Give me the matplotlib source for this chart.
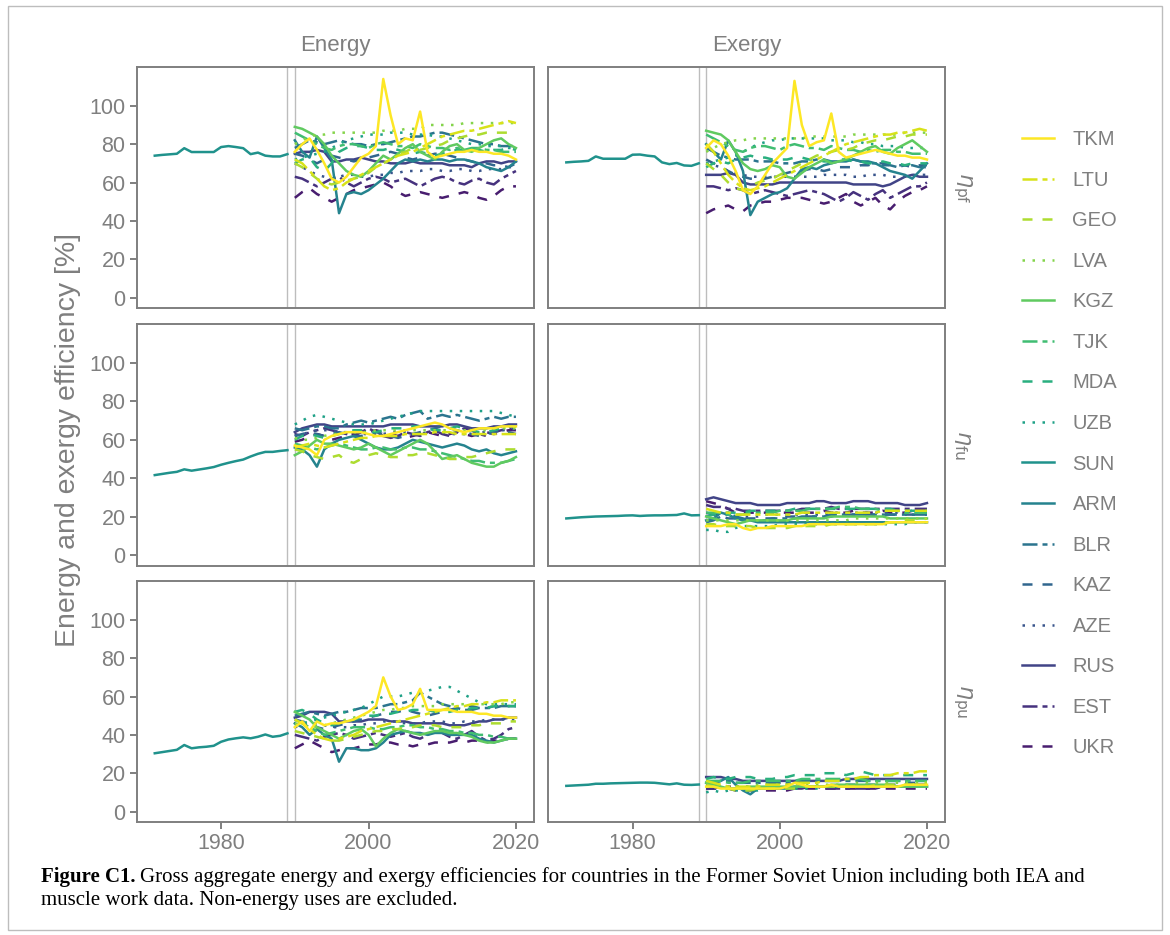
import numpy as np
import matplotlib
matplotlib.use('Agg')
import matplotlib.pyplot as plt
from matplotlib.lines import Line2D
from matplotlib.patches import Rectangle

plt.rcParams['font.family'] = ['Liberation Sans', 'DejaVu Sans']
plt.rcParams['lines.scale_dashes'] = False

countries = ['TKM', 'LTU', 'GEO', 'LVA', 'KGZ', 'TJK', 'MDA', 'UZB',
             'SUN', 'ARM', 'BLR', 'KAZ', 'AZE', 'RUS', 'EST', 'UKR']
linestyles = ['solid', 'twodash', 'dashed', 'dotted', 'solid', 'twodash', 'dashed', 'dotted',
              'solid', 'solid', 'twodash', 'dashed', 'dotted', 'solid', 'twodash', 'dashed']

sun_years = list(range(1971, 1990))
years = list(range(1990, 2021))

# Soviet Union aggregate, 1971-1989
sun_pf_energy = [74.0, 74.4, 74.7, 75.0, 77.9, 75.9, 75.9, 75.9, 75.9, 78.5, 79.0, 78.5, 77.9, 74.8, 75.6, 74.0, 73.6, 73.6, 74.8]
sun_pf_exergy = [70.5, 70.8, 71.0, 71.3, 73.6, 72.4, 72.4, 72.4, 72.4, 74.5, 74.6, 74.0, 73.6, 70.5, 69.6, 70.2, 68.9, 68.7, 70.0]
sun_fu_energy = [41.6, 42.2, 42.8, 43.3, 44.6, 43.9, 44.5, 45.1, 45.8, 47.0, 48.0, 48.9, 49.7, 51.3, 52.7, 53.7, 53.7, 54.2, 54.6]
sun_fu_exergy = [19.0, 19.3, 19.6, 19.8, 20.0, 20.1, 20.2, 20.3, 20.5, 20.6, 20.3, 20.5, 20.6, 20.6, 20.7, 20.8, 21.6, 20.6, 20.7]
sun_pu_energy = [30.4, 31.0, 31.6, 32.2, 34.7, 33.0, 33.5, 33.8, 34.3, 36.4, 37.6, 38.2, 38.7, 38.2, 39.0, 40.2, 39.0, 39.5, 40.8]
sun_pu_exergy = [13.4, 13.6, 13.8, 14.0, 14.5, 14.5, 14.7, 14.8, 14.9, 15.0, 15.1, 15.1, 15.0, 14.6, 14.2, 14.7, 14.0, 13.9, 14.1]

# successor states, 1990-2020
pf_energy = {
    'TKM': [76, 80, 83, 77, 70, 62, 60, 63, 68, 73, 75, 79, 114, 95, 80, 83, 82, 97, 76, 73, 74, 75, 76, 76, 77, 76, 76, 75, 75, 74, 72],
    'LTU': [72, 70, 66, 62, 58, 56, 57, 60, 62, 64, 66, 68, 70, 72, 74, 75, 76, 78, 80, 82, 84, 85, 86, 87, 87, 88, 89, 90, 91, 92, 91],
    'GEO': [70, 68, 65, 62, 60, 59, 60, 61, 62, 63, 65, 68, 70, 72, 75, 76, 78, 77, 78, 79, 80, 82, 83, 84, 85, 85, 86, 86, 86, 86, 86],
    'LVA': [80, 82, 84, 85, 85, 86, 86, 86, 86, 86, 86, 86, 87, 87, 87, 88, 88, 88, 90, 90, 90, 90, 90, 91, 91, 91, 91, 91, 91, 91, 91],
    'KGZ': [89, 88, 86, 84, 80, 74, 70, 66, 64, 63, 66, 70, 74, 72, 75, 78, 80, 76, 74, 72, 76, 79, 80, 77, 76, 78, 80, 82, 83, 80, 78],
    'TJK': [86, 84, 82, 80, 78, 77, 79, 80, 80, 79, 78, 80, 81, 80, 79, 79, 78, 80, 79, 78, 78, 77, 78, 77, 78, 78, 77, 77, 76, 76, 76],
    'MDA': [70, 72, 73, 68, 66, 70, 76, 78, 79, 79, 78, 77, 77, 78, 77, 76, 75, 76, 75, 74, 75, 76, 77, 77, 78, 77, 76, 77, 77, 78, 77],
    'UZB': [72, 73, 74, 75, 76, 78, 80, 82, 83, 84, 85, 85, 85, 86, 86, 86, 85, 85, 85, 84, 84, 83, 82, 81, 80, 80, 79, 79, 79, 78, 78],
    'ARM': [82, 76, 73, 84, 78, 72, 44, 54, 55, 54, 56, 59, 62, 66, 70, 72, 71, 72, 71, 72, 72, 71, 72, 72, 71, 70, 68, 67, 66, 68, 71],
    'BLR': [78, 80, 82, 81, 80, 81, 82, 81, 80, 80, 79, 80, 80, 81, 82, 83, 84, 84, 85, 86, 86, 85, 84, 83, 82, 81, 80, 80, 79, 79, 79],
    'KAZ': [75, 74, 72, 70, 72, 74, 73, 72, 71, 72, 73, 74, 75, 76, 75, 73, 72, 73, 74, 75, 75, 74, 73, 72, 71, 70, 70, 69, 69, 68, 70],
    'AZE': [70, 68, 66, 64, 63, 62, 63, 64, 64, 63, 63, 64, 64, 65, 65, 66, 66, 66, 67, 67, 66, 66, 67, 67, 66, 66, 67, 67, 67, 68, 68],
    'RUS': [75, 76, 76, 77, 76, 71, 71, 72, 72, 73, 72, 71, 71, 70, 70, 70, 71, 70, 70, 70, 70, 69, 69, 69, 68, 70, 71, 71, 70, 71, 71],
    'EST': [63, 62, 60, 58, 60, 62, 63, 60, 58, 60, 62, 63, 62, 60, 61, 62, 60, 58, 60, 62, 63, 62, 60, 59, 61, 62, 60, 59, 62, 64, 66],
    'UKR': [52, 55, 57, 54, 52, 50, 52, 54, 56, 57, 58, 59, 60, 58, 55, 53, 54, 55, 54, 53, 52, 53, 54, 55, 54, 52, 51, 53, 56, 58, 58],
}

pf_exergy = {
    'TKM': [78, 82, 80, 74, 66, 56, 54, 58, 64, 70, 74, 78, 113, 90, 79, 81, 82, 96, 76, 73, 74, 75, 76, 77, 76, 75, 74, 74, 73, 73, 72],
    'LTU': [80, 76, 70, 64, 60, 57, 56, 57, 58, 60, 62, 64, 66, 68, 70, 72, 74, 76, 78, 80, 81, 82, 83, 84, 85, 85, 86, 86, 87, 88, 87],
    'GEO': [70, 67, 64, 60, 57, 56, 58, 60, 61, 62, 64, 66, 68, 70, 72, 74, 75, 76, 77, 77, 78, 80, 81, 82, 82, 83, 84, 84, 85, 85, 85],
    'LVA': [76, 78, 80, 81, 82, 82, 83, 83, 83, 83, 83, 83, 83, 83, 84, 84, 84, 84, 84, 84, 85, 85, 85, 85, 85, 85, 85, 86, 86, 86, 86],
    'KGZ': [87, 86, 85, 82, 76, 70, 67, 66, 67, 69, 68, 63, 62, 65, 68, 70, 72, 70, 71, 72, 74, 76, 78, 79, 76, 75, 78, 80, 82, 79, 76],
    'TJK': [85, 83, 81, 79, 77, 76, 78, 79, 79, 78, 77, 79, 80, 79, 78, 78, 77, 79, 78, 77, 77, 76, 77, 76, 77, 77, 76, 76, 75, 75, 75],
    'MDA': [68, 70, 71, 70, 72, 73, 74, 73, 73, 72, 72, 72, 73, 73, 72, 72, 71, 71, 72, 72, 71, 71, 70, 70, 71, 70, 70, 69, 70, 70, 70],
    'UZB': [70, 71, 72, 73, 74, 76, 78, 80, 81, 82, 82, 83, 83, 83, 83, 83, 83, 82, 82, 82, 81, 81, 80, 80, 79, 79, 79, 78, 78, 78, 78],
    'ARM': [80, 76, 72, 82, 76, 66, 43, 50, 52, 54, 55, 57, 62, 67, 68, 67, 69, 70, 71, 71, 72, 71, 71, 70, 68, 66, 65, 64, 62, 66, 70],
    'BLR': [78, 76, 74, 73, 72, 72, 72, 71, 71, 71, 70, 70, 70, 71, 71, 72, 72, 71, 71, 72, 72, 71, 70, 70, 69, 69, 68, 69, 69, 68, 68],
    'KAZ': [72, 70, 68, 66, 64, 63, 62, 62, 62, 63, 64, 65, 66, 66, 67, 67, 66, 67, 68, 68, 68, 69, 69, 70, 70, 69, 69, 69, 68, 69, 69],
    'AZE': [70, 69, 68, 66, 65, 64, 63, 63, 63, 63, 63, 63, 63, 63, 63, 63, 64, 64, 64, 64, 63, 63, 64, 64, 64, 63, 63, 63, 64, 64, 64],
    'RUS': [64, 64, 64, 65, 64, 60, 59, 59, 59, 59, 60, 60, 60, 60, 60, 60, 60, 60, 60, 60, 59, 59, 59, 59, 58, 59, 61, 63, 64, 63, 63],
    'EST': [58, 58, 57, 56, 57, 56, 54, 55, 56, 55, 54, 53, 54, 55, 56, 55, 54, 52, 50, 52, 55, 53, 51, 54, 56, 52, 54, 56, 58, 58, 60],
    'UKR': [44, 46, 47, 48, 46, 45, 48, 49, 50, 50, 51, 52, 52, 52, 51, 50, 49, 50, 52, 54, 50, 48, 50, 52, 48, 46, 50, 53, 55, 56, 58],
}

fu_energy = {
    'TKM': [57, 56, 55, 52, 60, 62, 63, 64, 64, 64, 63, 62, 62, 63, 64, 65, 66, 67, 68, 69, 68, 66, 65, 64, 65, 66, 66, 66, 67, 67, 67],
    'LTU': [56, 57, 58, 57, 56, 57, 58, 59, 60, 61, 61, 62, 62, 62, 62, 63, 63, 63, 63, 64, 64, 64, 63, 63, 63, 63, 63, 63, 63, 63, 63],
    'GEO': [55, 54, 52, 51, 50, 51, 52, 49, 48, 50, 52, 53, 52, 51, 51, 52, 52, 53, 53, 52, 51, 50, 50, 51, 51, 52, 53, 54, 55, 55, 55],
    'LVA': [61, 60, 60, 61, 62, 63, 63, 64, 64, 64, 64, 65, 65, 65, 65, 65, 65, 65, 65, 65, 65, 65, 65, 65, 65, 65, 65, 66, 66, 66, 66],
    'KGZ': [52, 54, 57, 60, 58, 58, 57, 56, 55, 56, 58, 56, 54, 52, 54, 56, 58, 60, 58, 54, 50, 51, 52, 50, 48, 47, 46, 46, 48, 49, 51],
    'TJK': [58, 57, 56, 55, 56, 57, 58, 57, 56, 55, 55, 56, 56, 55, 55, 56, 56, 55, 55, 54, 53, 52, 51, 50, 49, 49, 48, 48, 48, 49, 50],
    'MDA': [60, 62, 63, 62, 61, 62, 63, 64, 65, 65, 64, 64, 65, 66, 66, 66, 67, 67, 66, 65, 65, 66, 67, 66, 65, 64, 64, 65, 66, 67, 67],
    'UZB': [68, 70, 72, 73, 72, 71, 70, 69, 68, 68, 68, 69, 70, 71, 72, 73, 74, 75, 75, 75, 75, 75, 75, 75, 75, 75, 75, 75, 74, 73, 72],
    'ARM': [56, 55, 52, 46, 55, 58, 60, 61, 62, 60, 58, 56, 55, 55, 56, 58, 60, 59, 58, 57, 56, 57, 58, 57, 55, 54, 55, 53, 52, 53, 54],
    'BLR': [66, 65, 66, 67, 67, 66, 66, 68, 69, 70, 69, 70, 71, 72, 71, 73, 74, 75, 71, 72, 73, 72, 73, 72, 71, 70, 71, 72, 71, 72, 72],
    'KAZ': [62, 63, 64, 63, 62, 63, 64, 63, 62, 62, 63, 64, 63, 62, 61, 62, 63, 64, 65, 66, 67, 66, 65, 64, 63, 62, 63, 64, 65, 64, 63],
    'AZE': [62, 63, 64, 65, 65, 65, 64, 64, 64, 63, 63, 63, 63, 64, 64, 64, 63, 63, 64, 64, 64, 63, 63, 63, 63, 64, 64, 65, 65, 65, 66],
    'RUS': [64, 66, 67, 68, 68, 67, 67, 67, 67, 67, 67, 67, 67, 68, 68, 68, 68, 67, 67, 67, 67, 68, 68, 67, 66, 66, 66, 67, 67, 68, 68],
    'EST': [63, 62, 64, 65, 66, 65, 64, 63, 62, 64, 66, 64, 62, 61, 62, 64, 63, 62, 64, 65, 63, 62, 64, 66, 65, 63, 62, 64, 65, 66, 67],
    'UKR': [59, 60, 62, 63, 62, 60, 61, 62, 63, 64, 64, 65, 64, 63, 62, 61, 62, 63, 64, 63, 62, 63, 64, 63, 62, 63, 64, 63, 64, 65, 65],
}

fu_exergy = {
    'TKM': [15, 15, 15, 16, 16, 14, 13, 14, 14, 15, 15, 15, 15, 15, 16, 16, 16, 16, 16, 16, 16, 16, 16, 16, 16, 17, 17, 17, 17, 17, 17],
    'LTU': [24, 23, 22, 22, 21, 21, 21, 21, 21, 21, 21, 21, 21, 22, 22, 22, 22, 22, 22, 22, 22, 22, 22, 22, 23, 23, 23, 23, 23, 23, 23],
    'GEO': [16, 16, 15, 15, 15, 15, 15, 14, 14, 14, 14, 14, 15, 15, 15, 15, 15, 16, 16, 16, 16, 16, 16, 16, 17, 17, 17, 18, 18, 18, 19],
    'LVA': [18, 18, 18, 18, 18, 18, 18, 18, 18, 18, 18, 18, 18, 18, 18, 18, 18, 18, 18, 18, 19, 19, 19, 19, 19, 19, 19, 19, 19, 19, 19],
    'KGZ': [20, 19, 18, 17, 16, 17, 18, 18, 18, 18, 18, 18, 19, 19, 19, 19, 19, 20, 20, 20, 20, 20, 20, 20, 20, 19, 19, 19, 19, 19, 19],
    'TJK': [22, 22, 22, 21, 21, 21, 22, 22, 22, 22, 23, 23, 23, 23, 24, 24, 24, 24, 25, 25, 25, 24, 24, 24, 23, 23, 23, 22, 22, 22, 22],
    'MDA': [20, 21, 22, 22, 22, 22, 23, 23, 23, 23, 23, 23, 24, 24, 24, 24, 24, 24, 24, 24, 24, 24, 24, 24, 24, 24, 23, 23, 23, 23, 23],
    'UZB': [13, 13, 12, 12, 14, 15, 15, 15, 15, 15, 16, 16, 16, 16, 16, 16, 16, 16, 16, 16, 16, 16, 16, 16, 16, 16, 16, 16, 17, 17, 17],
    'ARM': [18, 19, 22, 21, 19, 18, 18, 17, 17, 17, 17, 17, 17, 17, 17, 17, 17, 17, 17, 17, 17, 17, 17, 17, 17, 17, 17, 17, 17, 17, 17],
    'BLR': [17, 18, 20, 22, 20, 19, 18, 18, 18, 19, 19, 19, 19, 20, 20, 20, 20, 21, 21, 21, 21, 21, 21, 21, 21, 21, 21, 21, 21, 21, 21],
    'KAZ': [22, 21, 20, 19, 19, 19, 19, 19, 19, 19, 19, 20, 20, 20, 20, 20, 20, 20, 21, 21, 21, 21, 21, 21, 21, 21, 21, 21, 21, 21, 21],
    'AZE': [20, 21, 21, 21, 20, 20, 20, 20, 21, 21, 21, 21, 21, 21, 21, 21, 21, 22, 22, 22, 22, 22, 22, 22, 22, 22, 22, 22, 22, 22, 22],
    'RUS': [29, 30, 29, 28, 27, 27, 27, 26, 26, 26, 26, 27, 27, 27, 27, 28, 28, 27, 27, 27, 28, 28, 28, 27, 27, 27, 27, 26, 26, 26, 27],
    'EST': [26, 25, 25, 24, 24, 23, 23, 23, 23, 23, 23, 23, 23, 24, 24, 24, 24, 25, 24, 24, 24, 24, 24, 24, 24, 24, 24, 24, 24, 24, 24],
    'UKR': [28, 27, 26, 24, 22, 22, 22, 22, 22, 22, 22, 22, 22, 22, 22, 22, 23, 22, 22, 22, 23, 22, 22, 22, 23, 22, 22, 22, 23, 23, 23],
}

pu_energy = {
    'TKM': [44, 47, 42, 47, 45, 46, 46, 47, 48, 50, 52, 55, 70, 60, 53, 54, 56, 64, 53, 53, 53, 53, 52, 52, 52, 51, 51, 50, 50, 49, 49],
    'LTU': [48, 46, 43, 40, 38, 37, 38, 39, 40, 42, 43, 44, 45, 46, 47, 48, 49, 50, 51, 52, 53, 54, 55, 55, 56, 56, 57, 57, 58, 58, 58],
    'GEO': [42, 41, 40, 39, 38, 37, 37, 38, 39, 40, 41, 42, 42, 43, 43, 44, 44, 45, 45, 45, 44, 44, 44, 44, 45, 45, 46, 46, 46, 47, 47],
    'LVA': [46, 45, 44, 44, 45, 46, 47, 48, 49, 50, 51, 52, 53, 53, 54, 54, 55, 55, 55, 55, 56, 56, 56, 56, 56, 56, 56, 56, 56, 57, 57],
    'KGZ': [52, 50, 48, 44, 42, 40, 38, 40, 42, 43, 40, 34, 38, 41, 43, 42, 41, 40, 41, 42, 42, 41, 41, 40, 39, 37, 36, 36, 37, 38, 38],
    'TJK': [48, 46, 44, 42, 40, 41, 42, 43, 44, 44, 44, 43, 43, 44, 44, 45, 45, 44, 44, 43, 43, 42, 42, 41, 41, 40, 40, 39, 39, 38, 38],
    'MDA': [52, 53, 51, 48, 46, 45, 46, 47, 48, 49, 50, 50, 51, 51, 52, 52, 53, 53, 53, 52, 52, 52, 53, 53, 54, 54, 54, 55, 55, 55, 55],
    'UZB': [45, 46, 47, 48, 49, 50, 51, 52, 53, 54, 56, 58, 60, 60, 60, 61, 62, 62, 63, 64, 65, 65, 63, 61, 59, 57, 56, 56, 56, 56, 56],
    'ARM': [46, 44, 40, 43, 40, 38, 26, 33, 33, 32, 32, 33, 36, 40, 41, 42, 41, 41, 40, 41, 41, 40, 40, 40, 40, 38, 37, 36, 37, 38, 38],
    'BLR': [50, 51, 52, 51, 50, 51, 52, 52, 53, 54, 54, 54, 55, 56, 56, 57, 58, 62, 60, 58, 56, 55, 54, 53, 53, 54, 54, 54, 55, 55, 55],
    'KAZ': [48, 47, 46, 44, 43, 44, 45, 46, 47, 48, 49, 50, 51, 52, 52, 53, 52, 51, 50, 51, 52, 53, 54, 55, 55, 54, 54, 55, 55, 55, 55],
    'AZE': [44, 45, 46, 46, 45, 44, 44, 44, 45, 45, 46, 46, 47, 47, 47, 46, 46, 46, 47, 47, 47, 46, 46, 47, 47, 47, 48, 48, 48, 48, 48],
    'RUS': [49, 50, 52, 52, 52, 51, 47, 47, 47, 47, 48, 48, 48, 47, 47, 47, 46, 46, 46, 46, 46, 45, 45, 45, 46, 47, 47, 48, 48, 49, 49],
    'EST': [40, 39, 38, 37, 39, 40, 41, 40, 38, 39, 40, 41, 40, 39, 40, 41, 39, 38, 40, 42, 41, 39, 38, 40, 42, 39, 37, 38, 40, 43, 44],
    'UKR': [33, 35, 37, 35, 33, 31, 32, 33, 33, 34, 35, 35, 36, 36, 35, 35, 34, 35, 35, 36, 36, 36, 37, 36, 37, 37, 36, 37, 37, 38, 38],
}

pu_exergy = {
    'TKM': [13, 13, 12, 12, 12, 12, 12, 12, 12, 12, 12, 13, 15, 14, 13, 13, 13, 14, 13, 13, 13, 13, 13, 13, 13, 13, 13, 14, 14, 14, 14],
    'LTU': [16, 15, 14, 13, 13, 13, 13, 13, 14, 14, 14, 14, 15, 15, 15, 15, 16, 16, 16, 17, 17, 18, 18, 19, 19, 19, 20, 20, 20, 21, 21],
    'GEO': [14, 13, 12, 12, 11, 11, 11, 12, 12, 12, 12, 12, 12, 13, 13, 13, 13, 13, 13, 13, 13, 13, 13, 14, 14, 14, 14, 14, 14, 15, 15],
    'LVA': [13, 13, 13, 13, 13, 13, 13, 14, 14, 14, 14, 14, 14, 14, 14, 14, 14, 14, 14, 14, 15, 15, 15, 15, 15, 15, 15, 15, 15, 15, 15],
    'KGZ': [15, 14, 13, 12, 12, 12, 13, 13, 13, 13, 13, 13, 13, 13, 13, 13, 13, 14, 14, 14, 14, 14, 14, 14, 14, 14, 13, 13, 13, 13, 13],
    'TJK': [16, 16, 16, 15, 15, 15, 16, 16, 16, 16, 16, 16, 16, 17, 17, 17, 17, 17, 17, 17, 17, 17, 16, 16, 16, 16, 16, 16, 16, 16, 16],
    'MDA': [17, 18, 17, 17, 18, 18, 18, 17, 17, 17, 18, 18, 19, 19, 19, 19, 20, 20, 20, 19, 20, 21, 20, 19, 19, 19, 19, 19, 19, 19, 19],
    'UZB': [10, 11, 10, 11, 11, 11, 11, 11, 12, 12, 12, 12, 12, 12, 12, 12, 13, 13, 13, 13, 13, 13, 13, 13, 13, 13, 13, 14, 14, 14, 14],
    'ARM': [15, 15, 16, 18, 14, 11, 9, 12, 12, 12, 12, 12, 13, 13, 13, 13, 13, 13, 13, 13, 13, 13, 13, 13, 13, 13, 13, 13, 13, 13, 13],
    'BLR': [15, 15, 16, 16, 15, 15, 15, 15, 15, 15, 15, 15, 15, 16, 16, 16, 16, 16, 16, 16, 16, 16, 16, 16, 16, 16, 16, 16, 16, 16, 16],
    'KAZ': [13, 13, 12, 12, 12, 12, 12, 12, 12, 12, 12, 12, 12, 13, 13, 13, 13, 13, 13, 14, 14, 14, 14, 14, 14, 14, 14, 15, 15, 15, 15],
    'AZE': [14, 14, 14, 13, 13, 13, 13, 13, 13, 13, 13, 13, 13, 13, 13, 13, 13, 13, 13, 13, 13, 13, 13, 13, 13, 13, 13, 13, 13, 14, 14],
    'RUS': [18, 18, 18, 17, 17, 16, 16, 16, 16, 16, 16, 16, 16, 16, 16, 16, 16, 16, 16, 17, 17, 17, 17, 17, 17, 17, 17, 17, 17, 17, 17],
    'EST': [12, 12, 13, 13, 13, 12, 12, 12, 12, 12, 12, 12, 12, 12, 13, 13, 12, 12, 12, 12, 12, 12, 12, 12, 13, 13, 13, 13, 14, 14, 14],
    'UKR': [12, 12, 12, 12, 11, 11, 11, 11, 11, 11, 11, 11, 12, 12, 12, 12, 12, 12, 12, 12, 12, 12, 12, 12, 12, 12, 12, 12, 12, 12, 12],
}

col_titles = ['Energy', 'Exergy']
row_titles = [r'$\eta_{\mathrm{pf}}$', r'$\eta_{\mathrm{fu}}$', r'$\eta_{\mathrm{pu}}$']

GREY = '#7f7f7f'
LW = 1.8
# ggplot-like dash patterns in points
dash_map = {
    'solid': '-',
    'twodash': (0, (10.8, 3.6, 3.6, 3.6)),
    'dashed': (0, (7.2, 7.2)),
    'dotted': (0, (1.8, 5.4)),
}
colors = plt.cm.viridis(np.linspace(1.0, 0.08, len(countries)))

panels = [[(pf_energy, sun_pf_energy), (pf_exergy, sun_pf_exergy)],
          [(fu_energy, sun_fu_energy), (fu_exergy, sun_fu_exergy)],
          [(pu_energy, sun_pu_energy), (pu_exergy, sun_pu_exergy)]]

W, H = 1170, 935
fig = plt.figure(figsize=(W / 100, H / 100), dpi=100)
fig.patch.set_facecolor('white')

col_x = [136.7, 548.3]
col_w = [397.3, 396.7]
row_y = [66.7, 324.0, 580.7]
row_h = 241.6

axes = []
for r in range(3):
    for c in range(2):
        ax = fig.add_axes([col_x[c] / W, 1 - (row_y[r] + row_h) / H, col_w[c] / W, row_h / H])
        data, sun = panels[r][c]
        ax.axvline(1989, color='#bdbdbd', lw=1.0, zorder=1)
        ax.axvline(1990, color='#bdbdbd', lw=1.0, zorder=1)
        # draw darkest first so yellow ends up on top
        for i in range(len(countries) - 1, -1, -1):
            name = countries[i]
            ls = dash_map[linestyles[i]]
            if name == 'SUN':
                ax.plot(sun_years, sun, color=colors[i], lw=LW, ls=ls, zorder=2)
            else:
                ax.plot(years, data[name], color=colors[i], lw=LW, ls=ls, zorder=2)
        ax.set_xlim(1968.55, 2022.45)
        ax.set_ylim(-5.6, 120.4)
        ax.set_yticks([0, 20, 40, 60, 80, 100])
        ax.set_xticks([1980, 2000, 2020])
        for sp in ax.spines.values():
            sp.set_color(GREY)
            sp.set_linewidth(1.4)
        ax.tick_params(colors=GREY, width=1.4, length=5, labelsize=15.5, pad=3)
        if c == 1:
            ax.tick_params(axis='y', left=False, labelleft=False)
        if r < 2:
            ax.tick_params(axis='x', bottom=False, labelbottom=False)
        if r == 0:
            ax.set_title(col_titles[c], color=GREY, fontsize=16, pad=11)
        if c == 1:
            ax.text(1.045, 0.5, row_titles[r], transform=ax.transAxes, rotation=-90,
                    ha='center', va='center', color=GREY, fontsize=16)
        axes.append(ax)

fig.text(68 / W, 1 - 440 / H, 'Energy and exergy efficiency [%]', rotation=90,
         ha='center', va='center', color=GREY, fontsize=20.5)

handles = [Line2D([0], [0], color=colors[i], lw=LW, ls=dash_map[linestyles[i]])
           for i in range(len(countries))]
leg = fig.legend(handles, countries, loc='upper left', bbox_to_anchor=(1004 / W, 1 - 112 / H),
                 frameon=False, fontsize=14.5, handlelength=1.6, handletextpad=0.9,
                 labelspacing=1.07)
for t in leg.get_texts():
    t.set_color(GREY)

# caption
fig.add_artist(Rectangle((8 / W, 1 - 930 / H), 1154 / W, 924 / H, transform=fig.transFigure,
                         fill=False, edgecolor='#bdbdbd', lw=1.0))
cap_font = ['Liberation Serif', 'DejaVu Serif']
t1 = fig.text(41 / W, 1 - 877 / H, 'Figure C1.', fontsize=15, fontweight='bold',
              family=cap_font, va='center', ha='left')
fig.canvas.draw()
bb = t1.get_window_extent(fig.canvas.get_renderer())
fig.text((bb.x1 + 4) / W, 1 - 877 / H,
         'Gross aggregate energy and exergy efficiencies for countries in the Former Soviet Union including both IEA and',
         fontsize=15, family=cap_font, va='center', ha='left')
fig.text(41 / W, 1 - 900 / H, 'muscle work data. Non-energy uses are excluded.',
         fontsize=15, family=cap_font, va='center', ha='left')

fig.savefig('out.png', dpi=100)
